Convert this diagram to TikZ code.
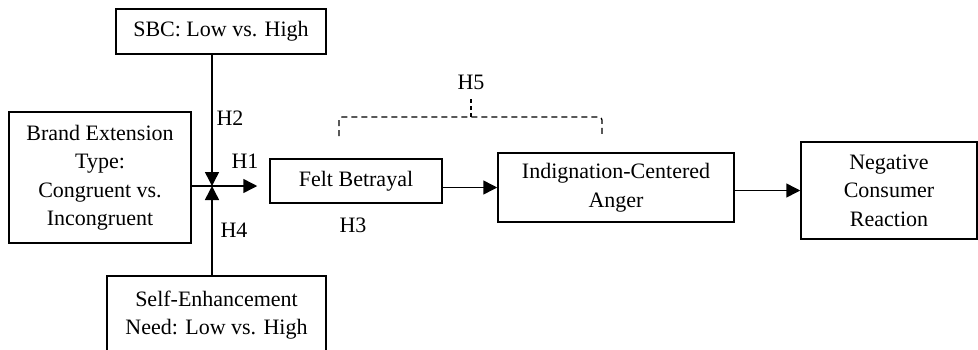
\documentclass[tikz,border=0pt]{standalone}
\usepackage{fontspec}
\setmainfont{Liberation Serif}
\usetikzlibrary{arrows.meta}
\begin{document}
\begin{tikzpicture}[x=1pt,y=-1pt,
  box/.style={draw,line width=1.5pt,rectangle,inner sep=0pt,align=center,
    font=\fontsize{22}{28.5}\selectfont},
  lbl/.style={inner sep=0pt,font=\fontsize{22}{28.5}\selectfont},
  arr/.style={line width=1.5pt,-{Triangle[length=14pt,width=14pt]}},
  brk/.style={line width=1.3pt,dash pattern=on 6pt off 4pt}]
\useasboundingbox (0,0) rectangle (978,349);
\node[box,minimum width=210pt,minimum height=45pt] (sbc) at (221,31.5) {SBC: Low vs. High};
\node[box,minimum width=182pt,minimum height=131pt] (brand) at (100,177.5) {Brand Extension\\Type:\\Congruent vs.\\Incongruent};
\node[box,minimum width=219pt,minimum height=78pt] (self) at (216.5,315) {Self-Enhancement\\Need: Low vs. High};
\node[box,minimum width=172pt,minimum height=44pt] (felt) at (356,181) {Felt Betrayal};
\node[box,minimum width=236pt,minimum height=69pt] (ind) at (616,187.5) {Indignation-Centered\\Anger};
\node[box,minimum width=176pt,minimum height=97pt] (neg) at (889,190.5) {Negative\\Consumer\\Reaction};
\coordinate (j) at (212,186);
\draw[arr,shorten >=12pt] (brand.east |- j) -- (felt.west |- j);
\draw[arr] (sbc.south -| j) -- (j);
\draw[arr] (self.north -| j) -- (j);
\draw[arr] (felt.east |- ind) -- (ind.west);
\draw[arr] (ind.east |- neg) -- (neg.west);
\node[lbl] (h2) at (230,118) {H2};
\node[lbl] (h1) at (245,161) {H1};
\node[lbl] (h4) at (234,230) {H4};
\node[lbl] (h3) at (353,225) {H3};
\node[lbl] (h5) at (471,82) {H5};
\coordinate (tick) at (471,97);
\draw[brk,rounded corners=3pt] (339,136) -- (339,117) -- (602,117) -- (602,136);
\draw[brk,dash pattern=on 4pt off 3pt] (471,117) -- (tick);
\end{tikzpicture}
\end{document}
